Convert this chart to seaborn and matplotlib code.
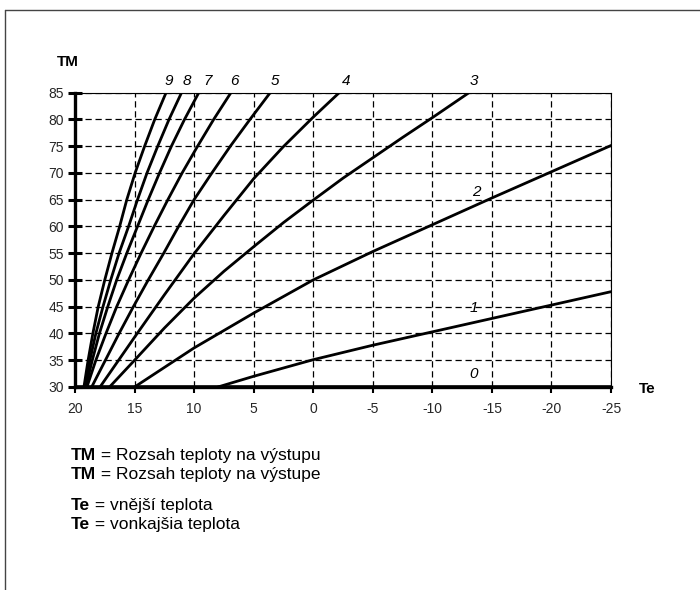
import matplotlib
matplotlib.use("Agg")
import matplotlib.pyplot as plt
import seaborn as sns
import pandas as pd
from matplotlib.lines import Line2D

# ---------------- data ----------------
te_ticks = [20, 15, 10, 5, 0, -5, -10, -15, -20, -25]
tm_ticks = [30, 35, 40, 45, 50, 55, 60, 65, 70, 75, 80, 85]
tm_levels = [30, 35, 40, 45, 50, 55, 60, 65, 70, 75, 80, 85]

c0_te = [20, -25]
c0_tm = [30, 30]
c1_te = [8.0, 5, 0, -5, -10, -15, -20, -25]
c1_tm = [30, 32.0, 35.1, 37.8, 40.3, 42.8, 45.3, 47.8]
c2_te = [15, 10, 5, 0, -5, -10, -15, -20, -25]
c2_tm = [30, 37.3, 43.8, 50, 55.3, 60.3, 65.3, 70.2, 75.1]
c3_te = [17.1, 15, 12.5, 10, 7.5, 5, 2.5, 0, -2.5, -5, -7.5, -10, -13.1]
c3_tm = [30, 35, 41, 46.6, 51.6, 56.2, 60.7, 64.9, 69, 72.8, 76.6, 80.3, 85]
c4_te = [17.9, 15, 12.5, 10, 7.5, 5, 2.5, 0, -2.2]
c4_tm = [30, 39.3, 47.2, 54.9, 62.0, 68.9, 74.9, 80.4, 85]
c5_te = [18.6, 17.45, 16.3, 15.1, 13.85, 12.55, 11.3, 10.0, 8.5, 6.95, 5.3, 3.6]
c6_te = [19.0, 18.25, 17.4, 16.5, 15.5, 14.45, 13.35, 12.2, 11.0, 9.7, 8.35, 6.9]
c7_te = [19.1, 18.55, 17.95, 17.25, 16.5, 15.65, 14.75, 13.85, 12.9, 11.9, 10.8, 9.6]
c8_te = [19.2, 18.75, 18.25, 17.65, 17.0, 16.3, 15.5, 14.75, 13.95, 13.05, 12.1, 11.05]
c9_te = [19.25, 18.9, 18.5, 18.05, 17.5, 16.9, 16.25, 15.65, 14.95, 14.15, 13.3, 12.35]

curve_names = ["0", "1", "2", "3", "4", "5", "6", "7", "8", "9"]
label_te = [-13.5, -13.5, -13.7, -13.5, -2.8, 3.2, 6.6, 8.9, 10.6, 12.1]
label_tm = [32.4, 44.7, 66.5, 87.2, 87.2, 87.2, 87.2, 87.2, 87.2, 87.2]

legend_lines = [
    ("TM", " = Rozsah teploty na výstupu"),
    ("TM", " = Rozsah teploty na výstupe"),
    ("Te", " = vnější teplota"),
    ("Te", " = vonkajšia teplota"),
]

# ---------------- build table ----------------
rows = []
series = [
    ("1", c1_te, c1_tm), ("2", c2_te, c2_tm), ("3", c3_te, c3_tm), ("4", c4_te, c4_tm),
    ("5", c5_te, tm_levels), ("6", c6_te, tm_levels), ("7", c7_te, tm_levels),
    ("8", c8_te, tm_levels), ("9", c9_te, tm_levels),
]
for name, tes, tms in series:
    for i, (t, m) in enumerate(zip(tes, tms)):
        rows.append({"curve": name, "order": i, "Te": t, "TM": m})
df = pd.DataFrame(rows)

# ---------------- style ----------------
sns.set_theme(style="white")
plt.rcParams["font.family"] = ["Liberation Sans", "DejaVu Sans"]

fig = plt.figure(figsize=(7.0, 5.9), dpi=100)
ax = fig.add_axes([75 / 700, 1 - 387 / 590, (611 - 75) / 700, (387 - 92.5) / 590])

sns.lineplot(data=df, x="Te", y="TM", units="curve", estimator=None, sort=False,
             color="black", lw=2.0, ax=ax, legend=False)
# curve 0 along the bottom
ax.plot(c0_te, c0_tm, color="black", lw=2.6, clip_on=False, solid_capstyle="butt", zorder=5)

ax.set_xlim(20, -25)
ax.set_ylim(30, 85)
ax.set_xticks(te_ticks)
ax.set_yticks(tm_ticks)
ax.set_xticklabels([str(v) for v in te_ticks])
ax.set_yticklabels([str(v) for v in tm_ticks])
ax.set_xlabel("")
ax.set_ylabel("")

ax.grid(True, color="black", linestyle=(0, (5, 3)), lw=0.9)
for s in ["top", "right"]:
    ax.spines[s].set_color("black")
    ax.spines[s].set_linewidth(0.8)
ax.spines["left"].set_color("black")
ax.spines["left"].set_linewidth(2.4)
ax.spines["bottom"].set_color("black")
ax.spines["bottom"].set_linewidth(2.4)

ax.tick_params(axis="y", direction="inout", length=10, width=2.2, color="black",
               labelsize=10, pad=3, left=True)
ax.tick_params(axis="x", direction="out", length=4, width=1.5, color="black",
               labelsize=10, pad=7, bottom=True)

for name, t, m in zip(curve_names, label_te, label_tm):
    ax.text(t, m, name, fontsize=11, style="italic", ha="center", va="center",
            clip_on=False, color="black")

# axis titles
fig.text(57 / 700, 1 - 62 / 590, "TM", fontsize=11, fontweight="bold",
         ha="left", va="center", color="black")
fig.text(639 / 700, 1 - 389 / 590, "Te", fontsize=11, fontweight="bold",
         ha="left", va="center", color="black")

# legend text (bold key + normal description on a shared baseline)
ys = [460, 479, 510, 529]
renderer = fig.canvas.get_renderer()
for (b, rest), y in zip(legend_lines, ys):
    t = fig.text(71 / 700, 1 - y / 590, b, fontsize=12.5, fontweight="bold",
                 ha="left", va="baseline", color="black")
    bb = t.get_window_extent(renderer=renderer)
    fig.text(bb.x1 / fig.bbox.width, 1 - y / 590, rest, fontsize=12.5,
             ha="left", va="baseline", color="black")

# page frame
fig.add_artist(Line2D([5 / 700, 1.0], [1 - 10 / 590, 1 - 10 / 590], color="#444444", lw=1.0))
fig.add_artist(Line2D([5 / 700, 5 / 700], [0, 1 - 10 / 590], color="#444444", lw=1.0))

fig.savefig("out.png", dpi=100)
